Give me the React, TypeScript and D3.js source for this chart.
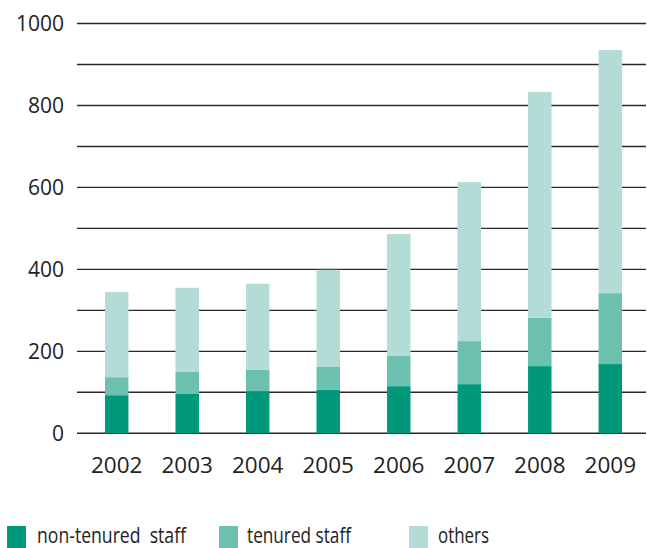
import React from "react";
import * as d3 from "d3";

const years = ["2002", "2003", "2004", "2005", "2006", "2007", "2008", "2009"];
const nonTenured = [93, 96, 103, 106, 115, 120, 164, 169];
const tenured = [44, 54, 52, 56, 74, 105, 118, 173];
const others = [208, 205, 210, 237, 297, 388, 551, 593];
const seriesNames = ["non-tenured  staff", "tenured staff", "others"];
const yTicks = [0, 200, 400, 600, 800, 1000];
const gridTicks = [0, 100, 200, 300, 400, 500, 600, 700, 800, 900, 1000];

const colors = ["#00987a", "#6bc1ad", "#b3dcd6"];

export default function App() {
  const W = 647;
  const H = 548;
  const x = d3
    .scaleBand<string>()
    .domain(years)
    .range([81, 646])
    .paddingInner(0.667)
    .paddingOuter(0.34);
  const y = d3.scaleLinear().domain([0, 1000]).range([433.3, 23.5]);

  const rows = years.map((yr, i) => ({
    year: yr,
    nonTenured: nonTenured[i],
    tenured: tenured[i],
    others: others[i],
  }));
  const keys = ["nonTenured", "tenured", "others"];
  const stacked = d3.stack<any>().keys(keys)(rows);

  const font = "'Open Sans', 'DejaVu Sans', sans-serif";
  const legend = [
    { sx: 7, tx: 37, tw: 149 },
    { sx: 219, tx: 247, tw: 104 },
    { sx: 409, tx: 438, tw: 51 },
  ];

  return (
    <svg
      width={W}
      height={H}
      style={{ position: "absolute", left: 0, top: 0, background: "#fff" }}
    >
      {gridTicks.map((t) => (
        <line
          key={t}
          x1={77}
          x2={646}
          y1={y(t)}
          y2={y(t)}
          stroke="#2a2a2a"
          strokeWidth={1.4}
        />
      ))}
      {stacked.map((s, si) => (
        <g key={si} fill={colors[si]}>
          {s.map((d: any, i: number) => (
            <rect
              key={i}
              x={x(d.data.year)}
              width={x.bandwidth()}
              y={y(d[1])}
              height={y(d[0]) - y(d[1])}
            />
          ))}
        </g>
      ))}
      {yTicks.map((t) => (
        <text
          key={t}
          x={64}
          y={y(t)}
          dy="0.36em"
          textAnchor="end"
          fontFamily={font}
          fontSize={21}
          fill="#222"
        >
          {t}
        </text>
      ))}
      {years.map((yr) => (
        <text
          key={yr}
          x={(x(yr) as number) + x.bandwidth() / 2}
          y={473}
          textAnchor="middle"
          fontFamily={font}
          fontSize={22.5}
          fill="#222"
        >
          {yr}
        </text>
      ))}
      {seriesNames.map((n, i) => (
        <g key={n}>
          <rect x={legend[i].sx} y={526} width={19} height={22} fill={colors[i]} />
          <text
            x={legend[i].tx}
            y={543}
            fontFamily={font}
            fontSize={21}
            fill="#222"
            textLength={legend[i].tw}
            lengthAdjust="spacingAndGlyphs"
            style={{ whiteSpace: "pre" }}
          >
            {n}
          </text>
        </g>
      ))}
    </svg>
  );
}
